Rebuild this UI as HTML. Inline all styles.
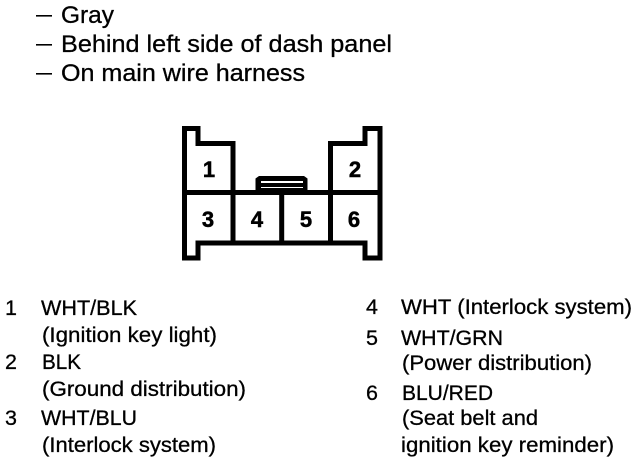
<!DOCTYPE html>
<html><head><meta charset="utf-8"><style>
html,body{margin:0;padding:0;background:#fff;width:640px;height:462px;overflow:hidden}
svg{display:block}
text{font-family:"Liberation Sans",sans-serif;fill:#000;stroke:#000;stroke-width:.3}
.a{font-size:24px}
.b{font-size:21.5px}
.n{font-size:22px;font-weight:bold;text-anchor:middle;stroke-width:.5}
</style></head><body>
<svg width="640" height="462" viewBox="0 0 640 462" xmlns="http://www.w3.org/2000/svg">
<rect width="640" height="462" fill="#fff"/>
<rect x="36" y="15" width="16" height="1.6"/>
<rect x="36" y="44" width="16" height="1.6"/>
<rect x="36" y="73" width="16" height="1.6"/>
<text class="a" x="61" y="23" textLength="53" lengthAdjust="spacingAndGlyphs">Gray</text>
<text class="a" x="61" y="52" textLength="331" lengthAdjust="spacingAndGlyphs">Behind left side of dash panel</text>
<text class="a" x="61" y="81" textLength="244" lengthAdjust="spacingAndGlyphs">On main wire harness</text>

<g fill="none" stroke="#000" stroke-width="5" stroke-linejoin="miter">
<path d="M184.5 128.5H198V143.5H233V192.5H330.5V143.5H365V128.5H380V258H365V243H198V258H184.5Z"/>
<path d="M184.5 192.5H233M330.5 192.5H380M233 192.5V243M281.7 192.5V243M330.5 192.5V243"/>
</g>
<path d="M259 176H304L307.5 178.5V192H255.5V178.5Z"/>
<rect x="261" y="181" width="42" height="2" fill="#fff"/>
<rect x="261" y="187" width="42" height="1" fill="#fff"/>

<text class="n" x="209" y="177">1</text>
<text class="n" x="355" y="177">2</text>
<text class="n" x="208" y="227">3</text>
<text class="n" x="257" y="227">4</text>
<text class="n" x="306" y="227">5</text>
<text class="n" x="354" y="227">6</text>

<text class="b" x="5" y="315">1</text>
<text class="b" x="5" y="369">2</text>
<text class="b" x="5" y="425">3</text>
<text class="b" x="41" y="315" textLength="96" lengthAdjust="spacingAndGlyphs">WHT/BLK</text>
<text class="b" x="42" y="342" textLength="175" lengthAdjust="spacingAndGlyphs">(Ignition key light)</text>
<text class="b" x="42" y="369" textLength="39" lengthAdjust="spacingAndGlyphs">BLK</text>
<text class="b" x="42" y="396" textLength="204" lengthAdjust="spacingAndGlyphs">(Ground distribution)</text>
<text class="b" x="41" y="425" textLength="96" lengthAdjust="spacingAndGlyphs">WHT/BLU</text>
<text class="b" x="42" y="452" textLength="174" lengthAdjust="spacingAndGlyphs">(Interlock system)</text>

<text class="b" x="366" y="314">4</text>
<text class="b" x="366" y="345">5</text>
<text class="b" x="366" y="400">6</text>
<text class="b" x="401" y="314" textLength="231" lengthAdjust="spacingAndGlyphs">WHT (Interlock system)</text>
<text class="b" x="401" y="345" textLength="102" lengthAdjust="spacingAndGlyphs">WHT/GRN</text>
<text class="b" x="402" y="370" textLength="190" lengthAdjust="spacingAndGlyphs">(Power distribution)</text>
<text class="b" x="402" y="400" textLength="91" lengthAdjust="spacingAndGlyphs">BLU/RED</text>
<text class="b" x="402" y="425" textLength="136" lengthAdjust="spacingAndGlyphs">(Seat belt and</text>
<text class="b" x="401" y="452" textLength="213" lengthAdjust="spacingAndGlyphs">ignition key reminder)</text>
</svg>
</body></html>
